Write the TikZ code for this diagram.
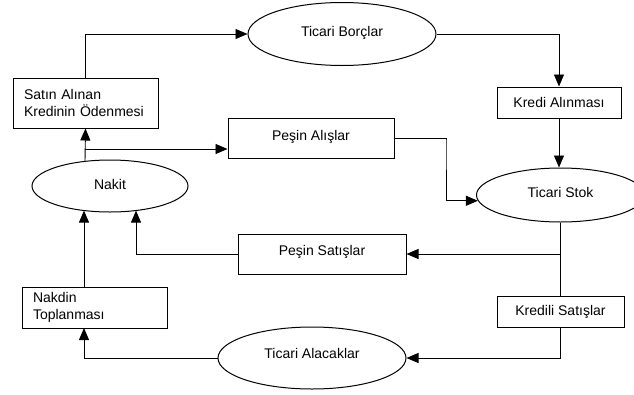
\documentclass[tikz,border=0pt]{standalone}
\usepackage{fontspec}
\setmainfont{Liberation Sans}
\usetikzlibrary{shapes.geometric,arrows.meta}
\tikzset{
  box/.style={draw, line width=1pt, inner sep=0pt, font=\fontsize{14}{17}\selectfont},
  oval/.style={draw, ellipse, line width=1pt, inner sep=0pt, font=\fontsize{14}{17}\selectfont},
  arr/.style={line width=0.9pt, -{Triangle[length=12pt,width=10pt]}},
  ln/.style={line width=1pt}
}
\begin{document}
\begin{tikzpicture}[x=1pt,y=-1pt]
\useasboundingbox (0,0) rectangle (634,394);
% stocks and flows
\node[oval, minimum width=188pt, minimum height=63pt] (borc) at (342,34) {\raisebox{6pt}{Ticari Borçlar}};
\node[oval, minimum width=156pt, minimum height=52pt] (nakit) at (110,186) {\raisebox{4pt}{Nakit}};
\node[oval, minimum width=168pt, minimum height=54pt] (stok) at (560.5,195) {\raisebox{5pt}{Ticari Stok}};
\node[oval, minimum width=188pt, minimum height=62pt] (alacak) at (312,358) {\raisebox{9pt}{Ticari Alacaklar}};
\node[box, minimum width=145pt, minimum height=50pt, text width=123pt, align=left] (satin) at (85.5,103) {Satın Alınan\\Kredinin Ödenmesi};
\node[box, minimum width=166pt, minimum height=40pt] (alis) at (311,138) {\raisebox{6pt}{Peşin Alışlar}};
\node[box, minimum width=124pt, minimum height=31pt] (kredi) at (559,102.5) {Kredi Alınması};
\node[box, minimum width=168pt, minimum height=40pt] (pesinsat) at (322,254) {\raisebox{7pt}{Peşin Satışlar}};
\node[box, minimum width=127pt, minimum height=31pt] (kredili) at (560.5,311.5) {Kredili Satışlar};
\node[box, minimum width=145pt, minimum height=41pt, text width=123pt, align=left] (nakdin) at (94.5,307.5) {Nakdin\\Toplanması};
% junction points
\coordinate (j1) at (85,149);
\coordinate (n1) at (84,210.6);
\coordinate (n2) at (136,210.6);
\coordinate (n3) at (84,328);
\coordinate (s1) at (446,140);
% connectors
\draw[arr] (satin.north) |- (borc.west);
\draw[arr] (borc.east) -| (kredi.north);
\draw[arr] (kredi.south) -- (kredi.south |- stok.north);
\draw[arr] (85,161.4) -- (satin.south);
\draw[arr] (j1) -- (j1 -| alis.west);
\draw[arr] (alis.east) -| (s1) |- (stok.184);
\draw[ln] (stok.south) -- (kredili.north);
\draw[arr] (stok.south |- pesinsat.east) -- (pesinsat.east);
\draw[arr] (pesinsat.west) -| (n2);
\draw[arr] (kredili.south) |- (alacak.east);
\draw[arr] (alacak.west) -| (n3);
\draw[arr] (n3 |- nakdin.north) -- (n1);
\end{tikzpicture}
\end{document}
